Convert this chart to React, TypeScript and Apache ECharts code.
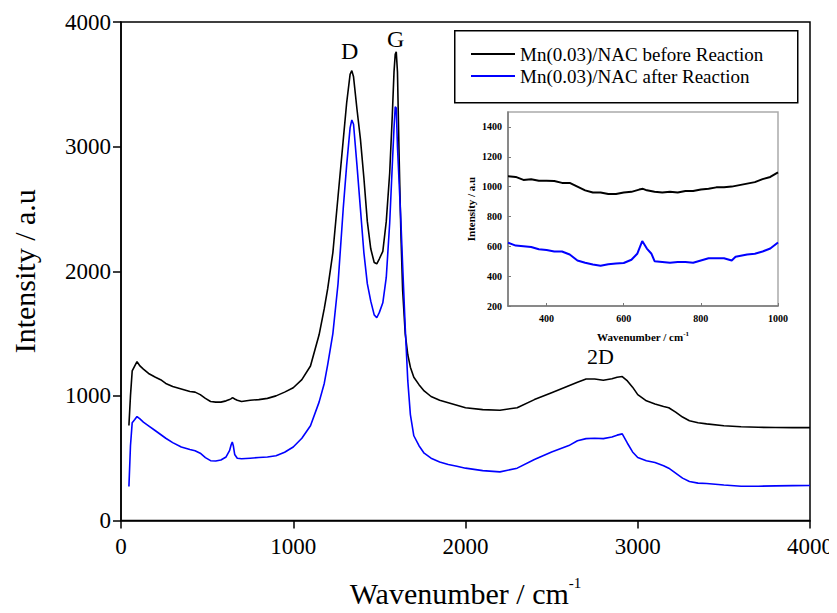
import React, { useEffect, useRef } from "react";
import * as echarts from "echarts";

const FONT = "'Liberation Serif', 'Times New Roman', serif";

// Main plot data (wavenumber / cm-1)
const mainWavenumbers = [
  46, 55, 65, 80, 93, 110, 130, 160, 200, 230, 260, 300, 350, 400, 430, 460, 490, 520, 550, 580,
  610, 630, 640, 646, 652, 660, 675, 700, 750, 800, 850, 900, 950, 1000, 1050, 1100, 1150, 1180,
  1200, 1230, 1260, 1290, 1310, 1330, 1340, 1350, 1370, 1390, 1410, 1430, 1450, 1470, 1485, 1500,
  1520, 1540, 1560, 1575, 1585, 1592, 1598, 1605, 1615, 1625, 1635, 1650, 1665, 1680, 1700, 1730,
  1760, 1800, 1850, 1900, 1950, 2000, 2100, 2200, 2300, 2400, 2500, 2600, 2650, 2700, 2750, 2800,
  2850, 2880, 2910, 2940, 2970, 3000, 3050, 3100, 3150, 3180, 3220, 3260, 3300, 3350, 3400, 3500,
  3600, 3700, 3800, 3900, 4000,
];

const beforeReaction = [
  762, 1000, 1200, 1240, 1275, 1240, 1215, 1180, 1150, 1130, 1100, 1075, 1055, 1035, 1030, 1010, 980, 955, 950, 950,
  960, 970, 978, 985, 982, 975, 965, 955, 965, 970, 980, 1000, 1030, 1065, 1130, 1240, 1490, 1700,
  1860, 2150, 2600, 3050, 3350, 3580, 3610, 3560, 3300, 3060, 2750, 2400, 2180, 2070, 2060, 2100,
  2160, 2400, 2790, 3250, 3600, 3740, 3760, 3600, 2900, 2300, 1850, 1500, 1330, 1230, 1150, 1090,
  1040, 995, 965, 945, 925, 905, 890, 885, 905, 970, 1026, 1082, 1110, 1135, 1135, 1125,
  1138, 1150, 1155, 1120, 1070, 1010, 960, 935, 915, 905, 870, 830, 800, 785, 775, 760,
  752, 748, 746, 745, 745,
];

const afterReaction = [
  273, 600, 785, 810, 834, 815, 790, 760, 720, 690, 660, 625, 590, 570, 560, 540, 505, 480, 478, 485,
  510, 560, 610, 630, 600, 530, 500, 495, 500, 505, 510, 520, 548, 590, 660, 760, 950, 1100,
  1250, 1500, 1900, 2500, 2850, 3150, 3214, 3180, 2850, 2500, 2150, 1900, 1760, 1650, 1627, 1670,
  1747, 1950, 2389, 2850, 3150, 3320, 3310, 3000, 2700, 2400, 2050, 1550, 1120, 850, 680, 600,
  540, 500, 470, 450, 435, 420, 400, 390, 420, 489, 550, 601, 640, 657, 660, 657,
  670, 685, 695, 620, 550, 505, 480, 465, 440, 420, 380, 340, 313, 300, 297, 285,
  275, 275, 278, 280, 281,
];

// Inset data
const insetBeforeX = [
  300, 320, 340, 360, 380, 400, 420, 440, 460, 480, 500, 520, 540, 560, 580, 600, 620, 640, 650,
  660, 680, 700, 720, 740, 760, 780, 800, 820, 840, 860, 880, 900, 920, 940, 960, 980, 1000,
];
const insetBeforeY = [
  1070, 1065, 1045, 1050, 1040, 1040, 1038, 1025, 1025, 1000, 975, 960, 960, 950, 950, 960, 965, 980, 985,
  975, 965, 960, 965, 960, 970, 970, 980, 985, 995, 995, 1000, 1010, 1020, 1030, 1050, 1065, 1095,
];
const insetAfterX = [
  300, 320, 340, 360, 380, 400, 420, 440, 460, 480, 500, 520, 540, 560, 580, 600, 620, 635, 648,
  660, 672, 680, 700, 720, 740, 760, 780, 800, 820, 840, 860, 880, 890, 920, 940, 960, 980, 1000,
];
const insetAfterY = [
  625, 605, 600, 595, 580, 575, 565, 565, 545, 505, 490, 478, 470, 480, 485, 488, 510, 550, 635,
  585, 550, 500, 495, 490, 495, 495, 490, 505, 520, 520, 520, 505, 530, 545, 550, 565, 585, 625,
];

const seriesNames = ["Mn(0.03)/NAC before Reaction", "Mn(0.03)/NAC after Reaction"];
const seriesColors = ["#000000", "#0000ff"];
const peakLabels = ["D", "G", "2D"];

const zip = (xs: number[], ys: number[]) => xs.map((x, i) => [x, ys[i]]);
const plain = (v: number) => String(v);

export default function App() {
  const ref = useRef<HTMLDivElement>(null);

  useEffect(() => {
    if (!ref.current) return;
    const chart = echarts.init(ref.current, null, { renderer: "svg" });

    const mainAxisLine = { show: true, lineStyle: { color: "#000", width: 1.5 } };
    const insetAxisLine = { show: true, lineStyle: { color: "#777", width: 1.5 } };
    const mainTick = { show: true, inside: false, length: 8, lineStyle: { color: "#000", width: 1.5 } };
    const insetTick = { show: true, inside: true, length: 3, lineStyle: { color: "#777" } };

    const option: any = {
      animation: false,
      backgroundColor: "#fff",
      textStyle: { fontFamily: FONT },
      grid: [
        { left: 121, top: 22, width: 689, height: 499, show: true, borderColor: "#000", borderWidth: 1.5 },
        { left: 508, top: 112, width: 270, height: 194, show: true, borderColor: "#aaa", borderWidth: 1.5 },
      ],
      legend: {
        left: 466,
        top: 39,
        orient: "vertical",
        icon: "rect",
        itemWidth: 44,
        itemHeight: 2,
        itemGap: 2,
        data: seriesNames,
        textStyle: { fontFamily: FONT, fontSize: 19, color: "#000", lineHeight: 20 },
      },
      graphic: [
        {
          type: "rect",
          left: 454,
          top: 30,
          shape: { width: 343, height: 72 },
          style: { fill: "#fff", stroke: "#000", lineWidth: 1.5 },
          z: 1,
        },
        {
          type: "text",
          left: 341,
          top: 39,
          style: { text: peakLabels[0], font: `24px ${FONT}`, fill: "#000" },
          z: 10,
        },
        {
          type: "text",
          left: 387,
          top: 27,
          style: { text: peakLabels[1], font: `24px ${FONT}`, fill: "#000" },
          z: 10,
        },
        {
          type: "text",
          left: 587,
          top: 345,
          style: { text: peakLabels[2], font: `22px ${FONT}`, fill: "#000" },
          z: 10,
        },
      ],
      xAxis: [
        {
          gridIndex: 0,
          type: "value",
          min: 0,
          max: 4000,
          interval: 1000,
          axisLine: mainAxisLine,
          axisTick: mainTick,
          axisLabel: { fontFamily: FONT, fontSize: 23, color: "#000", margin: 14, formatter: plain },
          splitLine: { show: false },
          name: "{a|Wavenumber / cm}{b|-1}",
          nameLocation: "middle",
          nameGap: 55,
          nameTextStyle: {
            fontFamily: FONT,
            rich: {
              a: { fontFamily: FONT, fontSize: 30, color: "#000" },
              b: { fontFamily: FONT, fontSize: 15, color: "#000", padding: [0, 0, 20, 0] },
            },
          },
        },
        {
          gridIndex: 1,
          type: "value",
          min: 300,
          max: 1000,
          splitNumber: 4,
          axisLine: insetAxisLine,
          axisTick: insetTick,
          axisLabel: {
            fontFamily: FONT,
            fontSize: 10,
            fontWeight: "bold",
            color: "#000",
            margin: 7,
            showMinLabel: false,
            formatter: plain,
          },
          splitLine: { show: false },
          name: "{a|Wavenumber / cm}{b|-1}",
          nameLocation: "middle",
          nameGap: 24,
          nameTextStyle: {
            fontFamily: FONT,
            rich: {
              a: { fontFamily: FONT, fontSize: 11, fontWeight: "bold", color: "#000" },
              b: { fontFamily: FONT, fontSize: 7, fontWeight: "bold", color: "#000", padding: [0, 0, 7, 0] },
            },
          },
        },
      ],
      yAxis: [
        {
          gridIndex: 0,
          type: "value",
          min: 0,
          max: 4000,
          interval: 1000,
          axisLine: mainAxisLine,
          axisTick: mainTick,
          axisLabel: { fontFamily: FONT, fontSize: 23, color: "#000", margin: 10, formatter: plain },
          splitLine: { show: false },
          name: "Intensity / a.u",
          nameLocation: "middle",
          nameGap: 82,
          nameTextStyle: { fontFamily: FONT, fontSize: 30, color: "#000" },
        },
        {
          gridIndex: 1,
          type: "value",
          min: 200,
          max: 1500,
          interval: 200,
          axisLine: insetAxisLine,
          axisTick: insetTick,
          axisLabel: {
            fontFamily: FONT,
            fontSize: 10,
            fontWeight: "bold",
            color: "#000",
            margin: 6,
            showMaxLabel: false,
            formatter: plain,
          },
          splitLine: { show: false },
          name: "Intensity / a.u",
          nameLocation: "middle",
          nameGap: 32,
          nameTextStyle: { fontFamily: FONT, fontSize: 11, fontWeight: "bold", color: "#000" },
        },
      ],
      series: [
        {
          name: seriesNames[0], type: "line", xAxisIndex: 0, yAxisIndex: 0,
          data: zip(mainWavenumbers, beforeReaction), showSymbol: false, symbol: "none",
          color: seriesColors[0], lineStyle: { color: seriesColors[0], width: 1.6 },
        },
        {
          name: seriesNames[1], type: "line", xAxisIndex: 0, yAxisIndex: 0,
          data: zip(mainWavenumbers, afterReaction), showSymbol: false, symbol: "none",
          color: seriesColors[1], lineStyle: { color: seriesColors[1], width: 1.6 },
        },
        {
          name: seriesNames[0], type: "line", xAxisIndex: 1, yAxisIndex: 1,
          data: zip(insetBeforeX, insetBeforeY), showSymbol: false, symbol: "none",
          color: seriesColors[0], lineStyle: { color: seriesColors[0], width: 2 },
        },
        {
          name: seriesNames[1], type: "line", xAxisIndex: 1, yAxisIndex: 1,
          data: zip(insetAfterX, insetAfterY), showSymbol: false, symbol: "none",
          color: seriesColors[1], lineStyle: { color: seriesColors[1], width: 2 },
        },
      ],
    };

    chart.setOption(option);
    return () => chart.dispose();
  }, []);

  return <div ref={ref} style={{ width: 837, height: 613, margin: -8 }} />;
}
